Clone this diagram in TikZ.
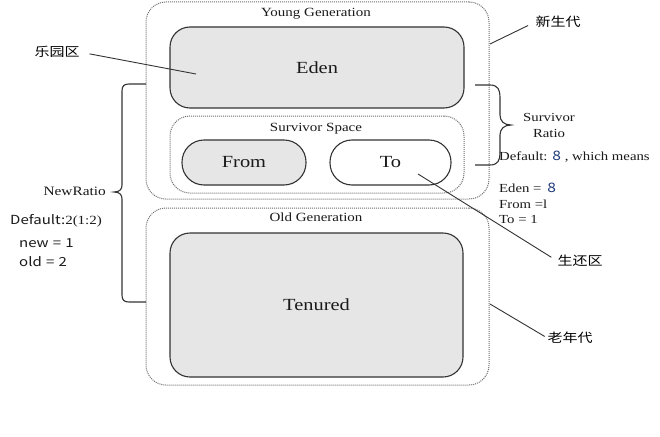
\documentclass[tikz,border=0pt]{standalone}
\usepackage{fontspec}
\setmainfont{Liberation Serif}[FakeStretch=1.2]
\newfontfamily\cjk{Noto Sans CJK SC}[FakeStretch=1.2]
\definecolor{linec}{HTML}{333333}
\definecolor{boxfill}{HTML}{E6E6E6}
\definecolor{dotc}{HTML}{707070}
\definecolor{txt}{HTML}{1A1A1A}
\definecolor{numblue}{HTML}{1F3A7A}
\newcommand{\fs}[1]{\fontsize{#1}{#1}\selectfont}
\begin{document}
\begin{tikzpicture}[x=1pt,y=-1pt,
  solidbox/.style={draw=linec, line width=1.1pt, fill=boxfill, rounded corners=20pt,
    inner sep=0pt, outer sep=0pt, anchor=north west, text=txt, font=\fs{17}},
  dotbox/.style={draw=dotc, line width=1pt, dash pattern=on 1pt off 1pt, rounded corners=20pt,
    inner sep=0pt, outer sep=0pt, anchor=north west},
  pill/.style={draw=linec, line width=1.1pt, rounded corners=22pt,
    inner sep=0pt, outer sep=0pt, anchor=north west, text=txt, font=\fs{17},
    minimum height=45pt},
  title/.style={text=txt, font=\fs{12.5}, inner sep=0pt},
  note/.style={text=txt, font=\fs{12.3}, inner sep=0pt},
  cjklabel/.style={text=black, font=\cjk\fs{12.5}, inner sep=0pt},
  conn/.style={draw=linec, line width=0.9pt},
  bracket/.style={draw=linec, line width=1.1pt}]
\useasboundingbox (0,0) rectangle (660,436);
\fill[white] (0,0) rectangle (660,436);

% outer dotted regions
\node[dotbox, minimum width=343pt, minimum height=197pt] (young) at (146,2) {};
\node[dotbox, minimum width=343pt, minimum height=177pt] (old) at (146,208) {};
\node[dotbox, minimum width=294pt, minimum height=77pt] (surv) at (170,116) {};

% solid regions
\node[solidbox, minimum width=294pt, minimum height=81pt] (eden) at (170,27) {Eden};
\node[solidbox, minimum width=293pt, minimum height=144pt] (tenured) at (170,233) {Tenured};
\node[pill, fill=boxfill, minimum width=124pt] (from) at (182,140) {From};
\node[pill, fill=white, minimum width=121pt] (to) at (330,140) {To};

% titles
\node[title] (youngt) at (316,14) {Young Generation};
\node[title] (survt) at (316,129) {Survivor Space};
\node[title] (oldt) at (316,217) {Old Generation};

% Chinese labels
\node[cjklabel] (leyuan) at (57,52) {乐园区};
\node[cjklabel] (xinsheng) at (558,22) {新生代};
\node[cjklabel] (shenghuan) at (580,261) {生还区};
\node[cjklabel] (laonian) at (570,338) {老年代};

\coordinate (edenpt) at (196,74);
\coordinate (youngpt) at (490,44);
\coordinate (topt) at (418,174);
\coordinate (oldpt) at (490,304);

\draw[conn, shorten <=10pt] (leyuan.east) -- (edenpt);
\draw[conn, shorten <=8pt] (xinsheng.west) -- (youngpt);
\draw[conn, shorten <=7pt] (shenghuan.west) -- (topt);
\draw[conn, shorten <=3pt] (laonian.west) -- (oldpt);

% left NewRatio bracket
\draw[bracket] (146,84) -- (129,84) .. controls (124,84) and (122,86) .. (122,91)
  -- (122,185) .. controls (122,189) and (120,192) .. (114,192)
  .. controls (120,192) and (122,195) .. (122,199)
  -- (122,295) .. controls (122,300) and (124,302) .. (129,302) -- (146,302);
\node[note, anchor=east, font=\fs{12.8}] (newratio) at (106,191) {NewRatio};
\node[inner sep=0pt, anchor=west, text=txt] (ldef) at (10,221)
  {{\cjk\fs{12.5}Default:}{\fs{12.5}2(1:2)}};
\node[inner sep=0pt, anchor=west, text=txt, font=\cjk\fs{12.5}] (lnew) at (19,243) {new\,\,=\,\,1};
\node[inner sep=0pt, anchor=west, text=txt, font=\cjk\fs{12.5}] (lold) at (19,262) {old\,\,=\,\,2};

% right Survivor Ratio brace
\draw[bracket] (475,85) -- (490,85) .. controls (498,85) and (500,90) .. (500,97)
  -- (500,115) .. controls (500,121) and (504,125) .. (511,125)
  .. controls (504,125) and (500,129) .. (500,135)
  -- (500,153) .. controls (500,160) and (498,165) .. (490,165) -- (475,165);
\node[note] (sr1) at (549,117) {Survivor};
\node[note] (sr2) at (549,133) {Ratio};
\node[note, anchor=west] (rdef) at (499,157)
  {Default: {\cjk\fs{13}\color{numblue}8} , which means};
\node[note, anchor=west] (reden) at (499,188) {Eden = \,{\cjk\fs{13}\color{numblue}8}};
\node[note, anchor=west] (rfrom) at (499,204) {From =l};
\node[note, anchor=west] (rto) at (499,219) {To = 1};
\end{tikzpicture}
\end{document}
